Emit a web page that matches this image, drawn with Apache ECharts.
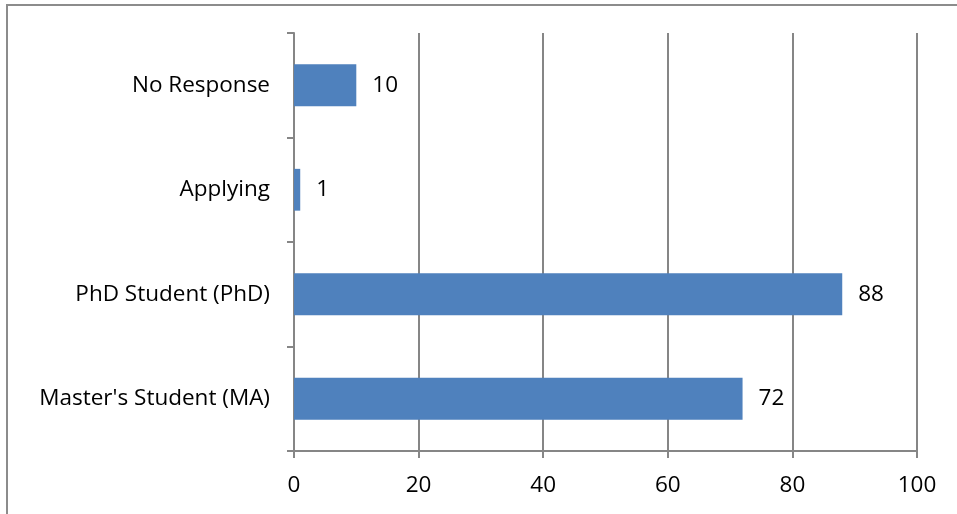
<!DOCTYPE html>
<html>
<head>
<meta charset="utf-8">
<script src="https://cdn.jsdelivr.net/npm/echarts@6/dist/echarts.min.js"></script>
<style>
html,body{margin:0;padding:0;background:#fff;}
#chart{width:957px;height:514px;}
</style>
</head>
<body>
<div id="chart"></div>
<script>
// Respondent status counts
const categories = ["Master's Student (MA)", "PhD Student (PhD)", "Applying", "No Response"];
const counts = [72, 88, 1, 10];
const valueTicks = [0, 20, 40, 60, 80, 100];

const chart = echarts.init(document.getElementById('chart'));
const axisGray = '#868686';
const font = '"Open Sans", "Noto Sans", sans-serif';
const fontSize = 22.5;

chart.setOption({
  animation: false,
  backgroundColor: '#fff',
  graphic: [{
    type: 'rect',
    shape: { x: 7, y: 5, width: 1000, height: 600 },
    style: { fill: 'none', stroke: '#8c8c8c', lineWidth: 2 }
  }],
  grid: { left: 294, right: 40, top: 33, bottom: 63, containLabel: false },
  xAxis: {
    type: 'value',
    min: valueTicks[0],
    max: valueTicks[valueTicks.length - 1],
    interval: 20,
    axisLine: { show: true, lineStyle: { color: axisGray, width: 2 } },
    axisTick: { show: true, length: 7, lineStyle: { color: axisGray, width: 2 } },
    splitLine: { show: true, lineStyle: { color: axisGray, width: 2 } },
    axisLabel: { color: '#000', fontSize: fontSize, fontFamily: font, margin: 23 }
  },
  yAxis: {
    type: 'category',
    data: categories,
    axisLine: { show: true, lineStyle: { color: axisGray, width: 2 } },
    axisTick: { show: true, length: 7, lineStyle: { color: axisGray, width: 2 } },
    axisLabel: { color: '#000', fontSize: fontSize, fontFamily: font, margin: 24 }
  },
  series: [{
    type: 'bar',
    data: counts,
    barCategoryGap: '60%',
    itemStyle: { color: '#4f81bd' },
    label: {
      show: true,
      position: 'right',
      distance: 16,
      color: '#000',
      fontSize: fontSize,
      fontFamily: font
    }
  }]
});
</script>
</body>
</html>
